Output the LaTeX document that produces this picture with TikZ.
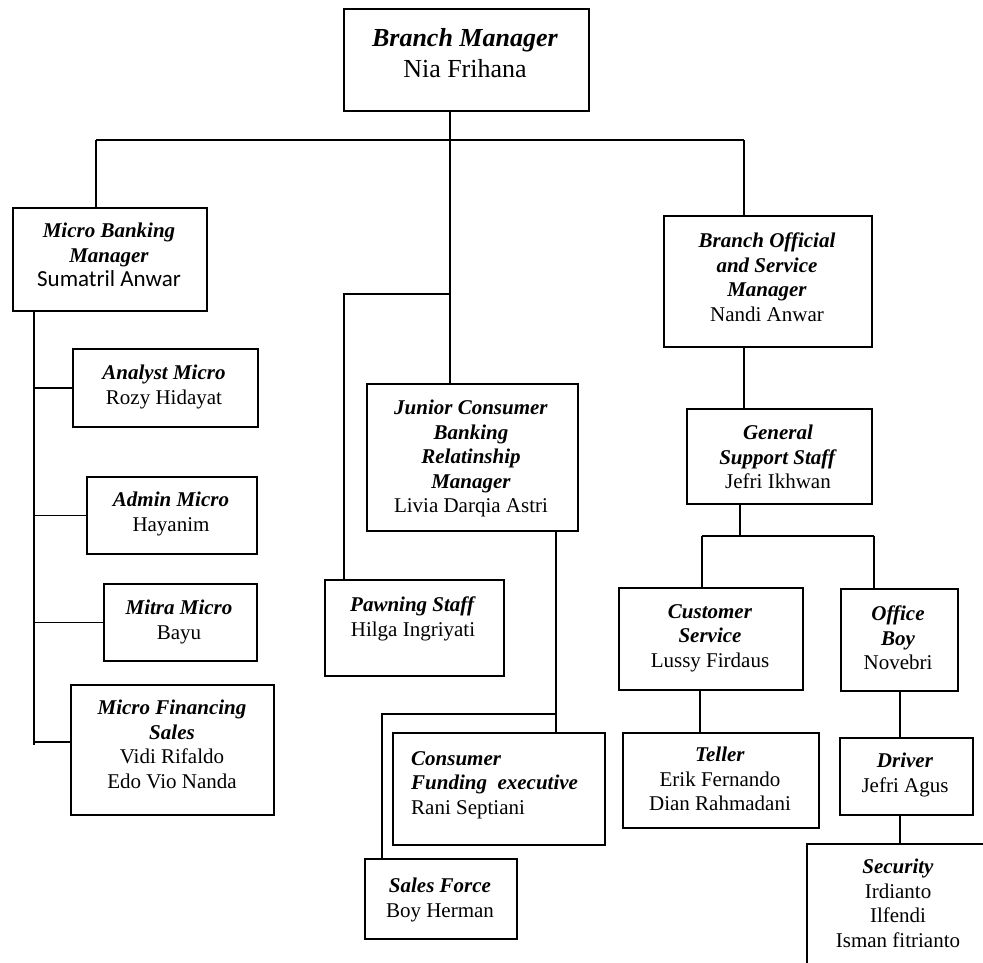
\documentclass[tikz,border=0pt]{standalone}
\usepackage{fontspec}
\setmainfont{Liberation Serif}
\newfontfamily\calib{Carlito}
\usetikzlibrary{calc}
\newcommand\jbi[1]{\textbf{\textit{#1}}}
\begin{document}
\begin{tikzpicture}[x=1pt,y=-1pt,
  box/.style={draw, line width=1.7pt, inner sep=0pt, anchor=north west},
  txt/.style={anchor=north, align=center, inner sep=0pt, font=\fontsize{21}{24.5}\selectfont},
  conn/.style={line width=1.7pt}]
\useasboundingbox (0,0) rectangle (983,962);
\clip (0,0) rectangle (983,962);

% boxes
\node[box, minimum width=245pt, minimum height=102pt] (bm)  at (343,8) {};
\node[box, minimum width=194pt, minimum height=103pt] (mbm) at (12,207) {};
\node[box, minimum width=185pt, minimum height=78pt]  (am)  at (72,348) {};
\node[box, minimum width=170pt, minimum height=77pt]  (adm) at (86,476) {};
\node[box, minimum width=153pt, minimum height=77pt]  (mm)  at (103,583) {};
\node[box, minimum width=203pt, minimum height=130pt] (mfs) at (70,684) {};
\node[box, minimum width=211pt, minimum height=147pt] (jc)  at (366,383) {};
\node[box, minimum width=179pt, minimum height=96pt]  (ps)  at (324,579) {};
\node[box, minimum width=212pt, minimum height=112pt] (cf)  at (392,732) {};
\node[box, minimum width=152pt, minimum height=80pt]  (sf)  at (364,858) {};
\node[box, minimum width=208pt, minimum height=131pt] (bo)  at (663,215) {};
\node[box, minimum width=185pt, minimum height=95pt]  (gs)  at (686,408) {};
\node[box, minimum width=184pt, minimum height=102pt] (cs)  at (618,587) {};
\node[box, minimum width=117pt, minimum height=102pt] (ob)  at (840,588) {};
\node[box, minimum width=196pt, minimum height=95pt]  (te)  at (622,732) {};
\node[box, minimum width=133pt, minimum height=77pt]  (dr)  at (839,737) {};
\node[box, minimum width=220pt, minimum height=160pt] (sec) at (806,843) {};

% texts
\node[txt, font=\fontsize{26}{31}\selectfont] (bmT) at (465,28) {\jbi{Branch Manager}\\Nia Frihana};
\node[txt] (mbmT) at (109,223) {\jbi{Micro Banking}\\\jbi{Manager}\\{\calib\fontsize{23}{24.5}\selectfont Sumatril Anwar}};
\node[txt] (amT)  at (164,365) {\jbi{Analyst Micro}\\Rozy Hidayat};
\node[txt] (admT) at (171,492) {\jbi{Admin Micro}\\Hayanim};
\node[txt] (mmT)  at (179,600) {\jbi{Mitra Micro}\\Bayu};
\node[txt] (mfsT) at (172,700) {\jbi{Micro Financing}\\\jbi{Sales}\\Vidi Rifaldo\\Edo Vio Nanda};
\node[txt] (jcT)  at (471,400) {\jbi{Junior Consumer}\\\jbi{Banking}\\\jbi{Relatinship}\\\jbi{Manager}\\Livia Darqia Astri};
\node[txt] (psT)  at (413,597) {\jbi{Pawning Staff}\\Hilga Ingriyati};
\node[txt, anchor=north west, align=left] (cfT) at (411,751) {\jbi{Consumer}\\\jbi{Funding\ \ executive}\\Rani Septiani};
\node[txt] (sfT)  at (440,878) {\jbi{Sales Force}\\Boy Herman};
\node[txt] (boT)  at (767,233) {\jbi{Branch Official}\\\jbi{and Service}\\\jbi{Manager}\\Nandi Anwar};
\node[txt] (gsT)  at (778,425) {\jbi{General}\\\jbi{Support Staff}\\Jefri Ikhwan};
\node[txt] (csT)  at (710,604) {\jbi{Customer}\\\jbi{Service}\\Lussy Firdaus};
\node[txt] (obT)  at (898,606) {\jbi{Office}\\\jbi{Boy}\\Novebri};
\node[txt] (teT)  at (720,747) {\jbi{Teller}\\Erik Fernando\\Dian Rahmadani};
\node[txt] (drT)  at (905,753) {\jbi{Driver}\\Jefri Agus};
\node[txt] (secT) at (898,859) {\jbi{Security}\\Irdianto\\Ilfendi\\Isman fitrianto};

% junction coordinates
\coordinate (busL) at (96,140);
\coordinate (busC) at (450,140);
\coordinate (busR) at (744,140);
\coordinate (pj)   at (450,294);
\coordinate (mx)   at (34,313);
\coordinate (mend) at (34,745);
\coordinate (mfsin) at (70,742);
\coordinate (jx)   at (556,714);
\coordinate (gx)   at (740,536);
\coordinate (gL)   at (702,536);
\coordinate (gR)   at (874,536);
\coordinate (cx)   at (700,700);
\coordinate (ox)   at (900,700);

% connectors
\draw[conn] (bm.south -| busC) -- (busC);
\draw[conn] (busL) -- (busR);
\draw[conn] (busL) -- (mbm.north -| busL);
\draw[conn] (busR) -- (bo.north -| busR);
\draw[conn] (busC) -- (jc.north -| busC);
\draw[conn] (pj) -| ($(ps.north west)+(20,0)$);
\draw[conn] (mbm.south -| mx) -- (mend);
\draw[conn] (am.west -| mx) -- (am.west);
\draw[conn] (adm.west -| mx) -- (adm.west);
\draw[conn] (mm.west -| mx) -- (mm.west);
\draw[conn] (mfsin -| mx) -- (mfsin);
\draw[conn] (jc.south -| jx) -- (cf.north -| jx);
\draw[conn] (jx) -| ($(sf.north west)+(18,0)$);
\draw[conn] (bo.south -| busR) -- (gs.north -| busR);
\draw[conn] (gs.south -| gx) -- (gx);
\draw[conn] (gL) -- (gR);
\draw[conn] (gL) -- (cs.north -| gL);
\draw[conn] (gR) -- (ob.north -| gR);
\draw[conn] (cs.south -| cx) -- (te.north -| cx);
\draw[conn] (ob.south -| ox) -- (dr.north -| ox);
\draw[conn] (dr.south -| ox) -- (sec.north -| ox);
\end{tikzpicture}
\end{document}
